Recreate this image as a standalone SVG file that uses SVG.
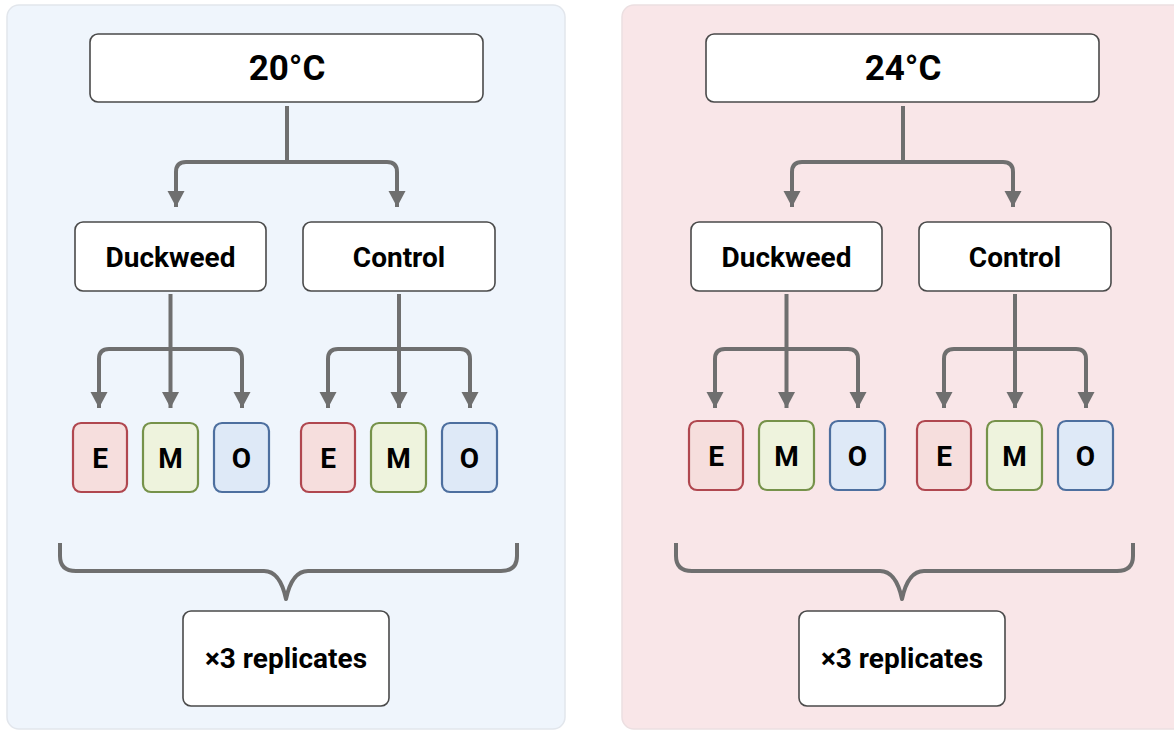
<svg xmlns="http://www.w3.org/2000/svg" width="1174" height="733" viewBox="0 0 1174 733">
<style>
.box{fill:#ffffff;stroke:#4a4a4a;stroke-width:1.6}
.t{font-family:Roboto,"Liberation Sans",sans-serif;font-weight:bold;fill:#000;text-anchor:middle}
.c{fill:none;stroke:#6f6f6f;stroke-width:4;stroke-linejoin:round}
.E{fill:#f6dedd;stroke:#b0474f;stroke-width:2.2}
.M{fill:#eef3dd;stroke:#76924a;stroke-width:2.2}
.O{fill:#dee9f7;stroke:#4d6f9f;stroke-width:2.2}
</style>
<defs>
<marker id="ah" markerUnits="userSpaceOnUse" markerWidth="18" markerHeight="18" viewBox="0 0 18 18" refX="16" refY="9" orient="auto">
<path d="M0,0.5 L16,9 L0,17.5 Z" fill="#6f6f6f"/>
</marker>
<g id="panel">
<g id="conn">
<path class="c" d="M287,106 V162"/>
<path class="c" d="M287,162 H186 Q176,162 176,172 V207" marker-end="url(#ah)"/>
<path class="c" d="M287,162 H387 Q397,162 397,172 V207" marker-end="url(#ah)"/>
<path class="c" d="M170.5,294 V408" marker-end="url(#ah)"/>
<path class="c" d="M170.5,349 H109 Q99,349 99,359 V408" marker-end="url(#ah)"/>
<path class="c" d="M170.5,349 H232 Q242,349 242,359 V408" marker-end="url(#ah)"/>
<path class="c" d="M399,294 V408" marker-end="url(#ah)"/>
<path class="c" d="M399,349 H338 Q328,349 328,359 V408" marker-end="url(#ah)"/>
<path class="c" d="M399,349 H460 Q470,349 470,359 V408" marker-end="url(#ah)"/>
<path class="c" d="M60,543 V556 Q60,571 76,571 H264 Q280,571 286,599 Q292,571 308,571 H501 Q517,571 517,556 V543"/>
</g>
</g>
</defs>

<g id="panel-20">
<rect x="7" y="5" width="558" height="724" rx="12" fill="#eff5fc" stroke="#e2e6ec" stroke-width="1.5"/>
<use href="#panel"/>
<g id="n20"><rect class="box" x="90" y="34" width="393" height="68" rx="8"/><text class="t" x="287" y="80" font-size="35">20°C</text></g>
<g id="duck20"><rect class="box" x="75" y="222" width="191" height="69" rx="8"/><text class="t" x="170.5" y="267" font-size="28">Duckweed</text></g>
<g id="ctrl20"><rect class="box" x="303" y="222" width="192" height="69" rx="8"/><text class="t" x="399" y="267" font-size="28">Control</text></g>
<g id="e20a"><rect class="E" x="73" y="423" width="54" height="69" rx="8"/><text class="t" x="100" y="468" font-size="28">E</text></g>
<g id="m20a"><rect class="M" x="143" y="423" width="55" height="69" rx="8"/><text class="t" x="170.5" y="468" font-size="28">M</text></g>
<g id="o20a"><rect class="O" x="214" y="423" width="55" height="69" rx="8"/><text class="t" x="241.5" y="468" font-size="28">O</text></g>
<g id="e20b"><rect class="E" x="301" y="423" width="54" height="69" rx="8"/><text class="t" x="328" y="468" font-size="28">E</text></g>
<g id="m20b"><rect class="M" x="371" y="423" width="55" height="69" rx="8"/><text class="t" x="398.5" y="468" font-size="28">M</text></g>
<g id="o20b"><rect class="O" x="442" y="423" width="55" height="69" rx="8"/><text class="t" x="469.5" y="468" font-size="28">O</text></g>
<g id="rep20"><rect class="box" x="183" y="611" width="206" height="95" rx="8"/><text class="t" x="286" y="668" font-size="28">×3 replicates</text></g>
</g>

<g id="panel-24" transform="translate(616,0)">
<rect x="6" y="5" width="570" height="724" rx="12" fill="#f9e6e8" stroke="#ecdfe1" stroke-width="1.5"/>
<use href="#panel"/>
<g id="n24"><rect class="box" x="90" y="34" width="393" height="68" rx="8"/><text class="t" x="287" y="80" font-size="35">24°C</text></g>
<g id="duck24"><rect class="box" x="75" y="222" width="191" height="69" rx="8"/><text class="t" x="170.5" y="267" font-size="28">Duckweed</text></g>
<g id="ctrl24"><rect class="box" x="303" y="222" width="192" height="69" rx="8"/><text class="t" x="399" y="267" font-size="28">Control</text></g>
<g id="e24a"><rect class="E" x="73" y="421" width="54" height="69" rx="8"/><text class="t" x="100" y="466" font-size="28">E</text></g>
<g id="m24a"><rect class="M" x="143" y="421" width="55" height="69" rx="8"/><text class="t" x="170.5" y="466" font-size="28">M</text></g>
<g id="o24a"><rect class="O" x="214" y="421" width="55" height="69" rx="8"/><text class="t" x="241.5" y="466" font-size="28">O</text></g>
<g id="e24b"><rect class="E" x="301" y="421" width="54" height="69" rx="8"/><text class="t" x="328" y="466" font-size="28">E</text></g>
<g id="m24b"><rect class="M" x="371" y="421" width="55" height="69" rx="8"/><text class="t" x="398.5" y="466" font-size="28">M</text></g>
<g id="o24b"><rect class="O" x="442" y="421" width="55" height="69" rx="8"/><text class="t" x="469.5" y="466" font-size="28">O</text></g>
<g id="rep24"><rect class="box" x="183" y="611" width="206" height="95" rx="8"/><text class="t" x="286" y="668" font-size="28">×3 replicates</text></g>
</g>
</svg>
